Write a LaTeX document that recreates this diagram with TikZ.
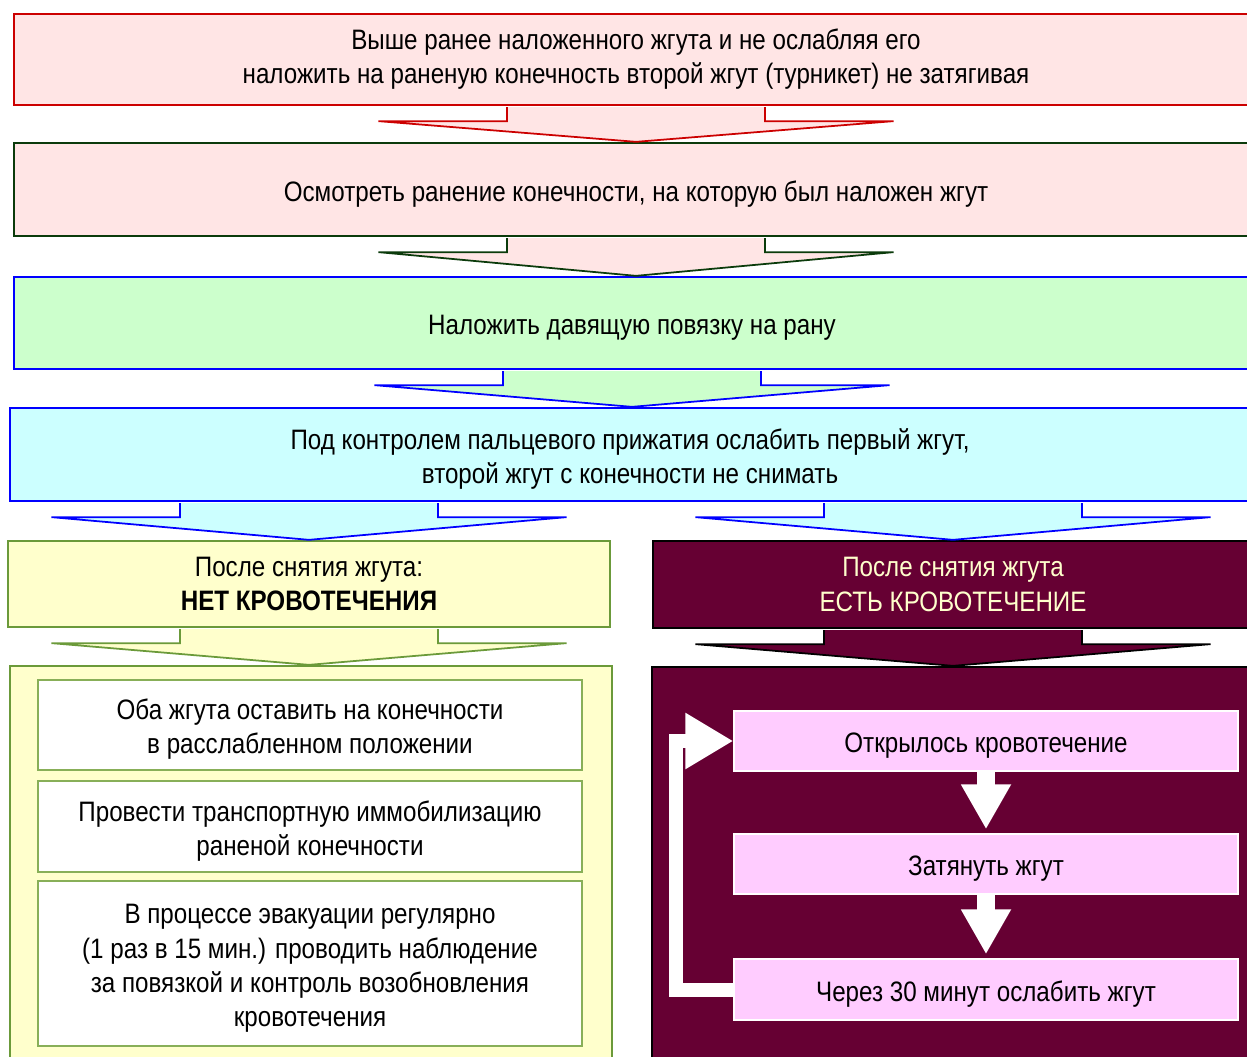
\documentclass[tikz,border=0pt]{standalone}
\usepackage{fontspec}
\setmainfont[FakeStretch=0.86]{Liberation Sans}
\usetikzlibrary{arrows.meta, calc}

\definecolor{redline}{HTML}{CC0000}
\definecolor{pinkbg}{HTML}{FFE5E5}
\definecolor{darkgreen}{HTML}{0B3B0B}
\definecolor{blueline}{HTML}{0000FF}
\definecolor{greenbg}{HTML}{CCFFCC}
\definecolor{cyanbg}{HTML}{CCFFFF}
\definecolor{olive}{HTML}{6B9A3A}
\definecolor{lightolive}{HTML}{88AF58}
\definecolor{yellowbg}{HTML}{FFFFCC}
\definecolor{maroon}{HTML}{660033}
\definecolor{lilac}{HTML}{FFCCFF}

% taller first line, pushes text a little lower in its box
\newcommand{\tstrut}{\rule{0pt}{16.5pt}}

% wide block arrow: #1 style, #2 top centre, #3 target node (tip on its north side)
\newcommand{\blockarr}[3]{%
  \draw[#1] ($(#2)+(-2.58,-0.02)$) -- ($(#2)+(-2.58,-0.30)$)
    -- ($(#2)+(-5.15,-0.30)$) -- (#2 |- #3.north)
    -- ($(#2)+(5.15,-0.30)$) -- ($(#2)+(2.58,-0.30)$)
    -- ($(#2)+(2.58,-0.02)$);}

\begin{document}
\begin{tikzpicture}[
    box/.style={rectangle, draw, line width=1.3pt, inner sep=0pt,
                align=center, font=\fontsize{16}{19.4}\selectfont,
                execute at begin node={\tstrut}},
    stepone/.style={box, draw=redline, fill=pinkbg},
    steptwo/.style={box, draw=darkgreen, fill=pinkbg},
    stepthree/.style={box, draw=blueline, fill=greenbg},
    stepfour/.style={box, draw=blueline, fill=cyanbg},
    nobleed/.style={box, draw=olive, fill=yellowbg},
    bleed/.style={box, draw=black, fill=maroon, text=yellowbg},
    advice/.style={box, draw=lightolive, line width=0.9pt, fill=white},
    action/.style={box, draw=white, line width=0.8pt, fill=lilac},
    barrow/.style={line width=1pt, line join=miter},
    wharrow/.style={white, line width=0.36cm,
                    -{Triangle[length=0.9cm, width=0.94cm]}},
    loopback/.style={white, line width=0.28cm, line join=miter,
                    -{Triangle[length=0.96cm, width=1.06cm]}},
]
\useasboundingbox (0,0) rectangle (24.94,-21.14);
\clip (0,0) rectangle (24.94,-21.14);

% ── Main column (full width) ───────────────────────────────────────
\node[stepone, minimum width=24.88cm, minimum height=1.82cm]
      (second)  at (12.72,-1.19) {Выше ранее наложенного жгута и не ослабляя его\\наложить на раненую конечность второй жгут (турникет) не затягивая};
\node[steptwo, minimum width=24.88cm, minimum height=1.86cm]
      (inspect) at (12.72,-3.79) {Осмотреть ранение конечности, на которую был наложен жгут};
\node[stepthree, minimum width=24.72cm, minimum height=1.84cm]
      (bandage) at (12.64,-6.46) {Наложить давящую повязку на рану};
\node[stepfour, minimum width=24.80cm, minimum height=1.86cm]
      (loosen)  at (12.60,-9.09) {\tstrut Под контролем пальцевого прижатия ослабить первый жгут,\\второй жгут с конечности не снимать};

% ── Two outcomes ───────────────────────────────────────────────────
\node[nobleed, minimum width=12.04cm, minimum height=1.72cm]
      (nobl)  at (6.18,-11.68) {После снятия жгута:\\\textbf{НЕТ КРОВОТЕЧЕНИЯ}};
\node[bleed, minimum width=12.00cm, minimum height=1.74cm]
      (yesbl) at (19.06,-11.69) {После снятия жгута\\ЕСТЬ КРОВОТЕЧЕНИЕ};

% ── Panels ─────────────────────────────────────────────────────────
\node[nobleed, minimum width=12.04cm, minimum height=8.28cm]
      (leftpanel)  at (6.22,-17.46) {};
\node[bleed, minimum width=12.16cm, minimum height=8.26cm]
      (rightpanel) at (19.12,-17.47) {};

% left panel: what to do
\node[advice, minimum width=10.88cm, minimum height=1.80cm]
      (keep)   at (6.20,-14.50) {\tstrut Оба жгута оставить на конечности\\в расслабленном положении};
\node[advice, minimum width=10.88cm, minimum height=1.82cm]
      (splint) at (6.20,-16.53) {\tstrut Провести транспортную иммобилизацию\\раненой конечности};
\node[advice, minimum width=10.88cm, minimum height=3.30cm]
      (watch)  at (6.20,-19.27) {\tstrut В процессе эвакуации регулярно\\(1 раз в 15 мин.) проводить наблюдение\\за повязкой и контроль возобновления\\кровотечения};

% right panel: the cycle
\node[action, minimum width=10.08cm, minimum height=1.20cm]
      (opened)  at (19.72,-14.82) {Открылось кровотечение};
\node[action, minimum width=10.08cm, minimum height=1.20cm]
      (tighten) at (19.72,-17.28) {Затянуть жгут};
\node[action, minimum width=10.08cm, minimum height=1.22cm]
      (release) at (19.72,-19.79) {Через 30 минут ослабить жгут};

% ── Block arrows ───────────────────────────────────────────────────
\blockarr{barrow, draw=redline, fill=pinkbg}{second.south}{inspect}
\blockarr{barrow, draw=darkgreen, fill=pinkbg}{inspect.south}{bandage}
\blockarr{barrow, draw=blueline, fill=greenbg}{bandage.south}{loosen}

\coordinate (splitl) at (loosen.south -| nobl.north);
\coordinate (splitr) at (loosen.south -| yesbl.north);
\blockarr{barrow, draw=blueline, fill=cyanbg}{splitl}{nobl}
\blockarr{barrow, draw=blueline, fill=cyanbg}{splitr}{yesbl}

\blockarr{barrow, draw=olive, fill=yellowbg}{nobl.south}{leftpanel}
\blockarr{barrow, draw=black, fill=maroon}{yesbl.south}{rightpanel}

% ── Cycle arrows ───────────────────────────────────────────────────
\draw[wharrow, shorten >=0.08cm] (opened.south) -- (tighten.north);
\draw[wharrow, shorten >=0.08cm] (tighten.south) -- (release.north);
\draw[loopback] (release.west) -- ++(-1.14,0) |- (opened.west);

\end{tikzpicture}
\end{document}
